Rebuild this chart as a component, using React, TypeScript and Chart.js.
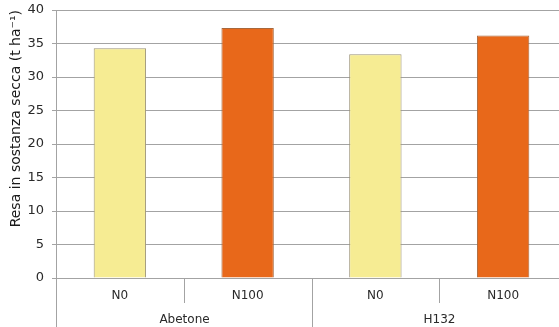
import React, { useEffect, useRef } from "react";
import { Chart, registerables } from "chart.js";

Chart.register(...registerables);

const categories = ["N0", "N100", "N0", "N100"];
const groups = ["Abetone", "H132"];
const values = [34.3, 37.3, 33.4, 36.2];
const fillColors = ["#F6EC93", "#E8681A", "#F6EC93", "#E8681A"];
const borderColors = ["#9c9478", "#a8683c", "#9c9478", "#a8683c"];
const yTitle = "Resa in sostanza secca (t ha\u207B\u00B9)";

const GRID = "#a3a3a3";
const TEXT = "#2a2a2a";
const FONT = "'DejaVu Sans', Verdana, sans-serif";

const groupPlugin = {
  id: "groupPlugin",
  afterDraw(chart: any) {
    const ctx = chart.ctx;
    const x = chart.scales.x;
    const area = chart.chartArea;
    const half = (x.getPixelForValue(1) - x.getPixelForValue(0)) / 2;
    const bottom = chart.height;
    ctx.save();
    ctx.strokeStyle = GRID;
    ctx.lineWidth = 1;
    ctx.beginPath();
    ctx.moveTo(Math.round(area.left) + 0.5, area.bottom);
    ctx.lineTo(Math.round(area.left) + 0.5, bottom);
    ctx.stroke();
    for (let g = 0; g < groups.length; g++) {
      const i0 = g * 2;
      const inner = Math.round(x.getPixelForValue(i0) + half) + 0.5;
      ctx.beginPath();
      ctx.moveTo(inner, area.bottom);
      ctx.lineTo(inner, area.bottom + 25);
      ctx.stroke();
      const end = Math.round(x.getPixelForValue(i0 + 1) + half) + 0.5;
      ctx.beginPath();
      ctx.moveTo(end, area.bottom);
      ctx.lineTo(end, bottom);
      ctx.stroke();
      ctx.fillStyle = TEXT;
      ctx.font = "12px " + FONT;
      ctx.textAlign = "center";
      ctx.textBaseline = "middle";
      ctx.fillText(groups[g], inner, 320);
    }
    ctx.restore();
  },
};

export default function App() {
  const ref = useRef<HTMLCanvasElement>(null);
  useEffect(() => {
    const canvas = ref.current!;
    const chart = new Chart(canvas, {
      type: "bar",
      data: {
        labels: categories,
        datasets: [
          {
            data: values,
            backgroundColor: fillColors,
            borderColor: borderColors,
            borderWidth: 1,
            categoryPercentage: 1,
            barPercentage: 0.41,
          },
        ],
      },
      options: {
        responsive: false,
        animation: false,
        layout: { padding: { top: 10, right: 0, left: 0, bottom: 0 } },
        plugins: { legend: { display: false }, tooltip: { enabled: false } },
        scales: {
          x: {
            grid: { display: false },
            border: { display: true, color: GRID },
            ticks: { color: TEXT, font: { family: FONT, size: 12 }, padding: 3 },
            afterFit: (s: any) => {
              s.height = 49;
            },
          },
          y: {
            min: 0,
            max: 40,
            ticks: { stepSize: 5, color: TEXT, font: { family: FONT, size: 13 }, padding: 8 },
            grid: { color: GRID, lineWidth: 1, tickLength: 4, drawTicks: true },
            border: { display: true, color: GRID },
            title: {
              display: true,
              text: yTitle,
              align: "end",
              color: "#1a1a1a",
              font: { family: FONT, size: 14 },
              padding: { top: 8, bottom: 0 },
            },
            afterFit: (s: any) => {
              s.width = 56;
              s.paddingTop = 4;
              s.paddingBottom = 4;
            },
          },
        },
      },
      plugins: [groupPlugin],
    });
    return () => chart.destroy();
  }, []);
  return (
    <div
      style={{
        position: "fixed",
        left: 0,
        top: 0,
        width: 559,
        height: 327,
        overflow: "hidden",
        background: "#fff",
      }}
    >
      <canvas ref={ref} width={567} height={327} style={{ display: "block" }} />
    </div>
  );
}
